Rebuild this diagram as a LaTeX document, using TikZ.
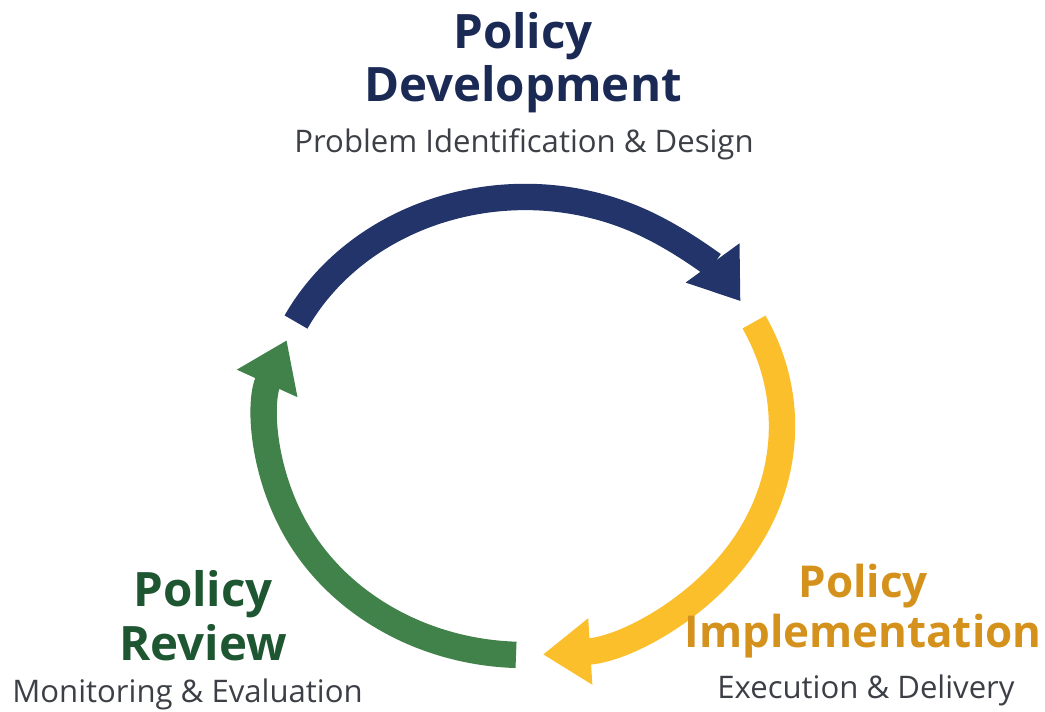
\documentclass[tikz,border=0pt]{standalone}
\usepackage{fontspec}
\setmainfont{Open Sans}
\usetikzlibrary{arrows.meta,positioning,calc}
\definecolor{devnavy}{HTML}{1A2A55}
\definecolor{devarc}{HTML}{22346A}
\definecolor{implgold}{HTML}{D4911C}
\definecolor{implarc}{HTML}{FBBF2C}
\definecolor{revgreen}{HTML}{1E5631}
\definecolor{revarc}{HTML}{41814A}
\definecolor{subgray}{HTML}{3C3F45}
\tikzset{
  phase/.style={line width=15pt, -{Triangle[length=27pt,width=36pt]}},
  title/.style={font=\bfseries\fontsize{27}{30.5}\selectfont, align=center, inner sep=0pt, anchor=north},
  subtitle/.style={font=\fontsize{17.7}{20}\selectfont, text=subgray, inner sep=0pt, anchor=base}
}
\begin{document}
\begin{tikzpicture}
  \useasboundingbox (0,0) rectangle (20.9,14.22);

  % Cycle centre and arc ends
  \coordinate (c) at (10.5,5.7);
  \coordinate (devS) at ($(c)+(153:5.14 and 4.58)$);
  \coordinate (implS) at ($(c)+(27:5.14 and 4.58)$);
  \coordinate (revS) at ($(c)+(268:5.14 and 4.58)$);

  % Development
  \draw[phase, devarc] (devS) arc[start angle=153, end angle=33, x radius=5.14, y radius=4.58];
  % Implementation
  \draw[phase, implarc] (implS) arc[start angle=27, end angle=-86, x radius=5.14, y radius=4.58];
  % Review
  \draw[phase, revarc] (revS) arc[start angle=268, end angle=158, x radius=5.14, y radius=4.58];

  % Labels
  \node[title, text=devnavy] (devTitle) at (10.46,13.98) {Policy\\Development};
  \node[subtitle] (devSub) at (10.48,11.16) {Problem Identification \& Design};

  \node[title, text=implgold, font=\bfseries\fontsize{25}{28.5}\selectfont] (implTitle) at (17.26,2.95) {Policy\\Implementation};
  \node[subtitle] (implSub) at (17.32,0.26) {Execution \& Delivery};

  \node[title, text=revgreen] (revTitle) at (4.06,2.82) {Policy\\Review};
  \node[subtitle] (revSub) at (3.75,0.18) {Monitoring \& Evaluation};
\end{tikzpicture}
\end{document}
